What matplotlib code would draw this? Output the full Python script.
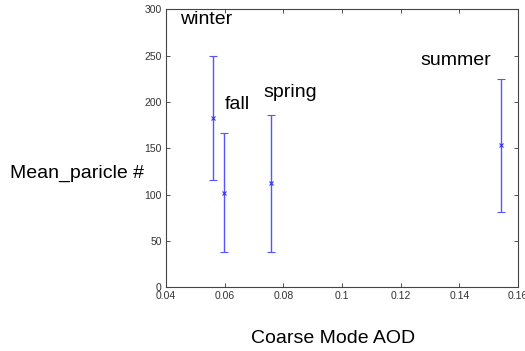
import matplotlib
matplotlib.use("Agg")
import matplotlib.pyplot as plt

seasons = ["winter", "fall", "spring", "summer"]
aod = [0.0561, 0.0598, 0.0758, 0.1542]
mean_particle = [183, 102, 112, 153]
err = [67, 64, 74, 72]
label_pos = [(0.0447, 289), (0.0600, 197), (0.0733, 210), (0.1268, 245)]

plt.rcParams['font.family'] = ['Liberation Sans', 'DejaVu Sans']
fig = plt.figure(figsize=(5.25, 3.51), dpi=100)
ax = fig.add_axes([0.316, 0.1823, 0.6707, 0.7907])

ax.errorbar(aod, mean_particle, yerr=err, fmt='x', color='#3333ff', ecolor='#5555ff',
            markersize=3.5, markeredgewidth=0.8, elinewidth=1.0, capsize=3, capthick=1.0)

for s, (x, y) in zip(seasons, label_pos):
    ax.text(x, y, s, fontsize=14, va='center', ha='left', color='black')

ax.set_xlim(0.04, 0.16)
ax.set_ylim(0, 300)
ax.set_xticks([0.04, 0.06, 0.08, 0.1, 0.12, 0.14, 0.16])
ax.set_xticklabels(["0.04", "0.06", "0.08", "0.1", "0.12", "0.14", "0.16"])
ax.set_yticks([0, 50, 100, 150, 200, 250, 300])
ax.tick_params(direction='in', top=True, right=True, labelsize=7.5, colors='#333333',
               length=3, width=0.6, pad=3)
for sp in ax.spines.values():
    sp.set_color('#444444')
    sp.set_linewidth(0.8)

fig.text(0.019, 0.507, "Mean_paricle #", fontsize=14, va='center', ha='left')
fig.text(0.634, 0.037, "Coarse Mode AOD", fontsize=14, va='center', ha='center')

fig.savefig("out.png", dpi=100)
